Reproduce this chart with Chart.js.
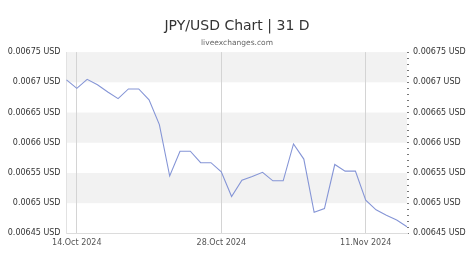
<!DOCTYPE html>
<html>
<head>
<meta charset="utf-8">
<script src="https://cdn.jsdelivr.net/npm/chart.js@4.4.1/dist/chart.umd.min.js"></script>
<style>
html,body{margin:0;padding:0;background:#fff;}
#wrap{width:474px;height:266px;}
</style>
</head>
<body>
<div id="wrap"><canvas id="c" width="474" height="266"></canvas></div>
<script>
const categories = [
  "13.Oct 2024","14.Oct 2024","15.Oct 2024","16.Oct 2024","17.Oct 2024","18.Oct 2024","19.Oct 2024",
  "20.Oct 2024","21.Oct 2024","22.Oct 2024","23.Oct 2024","24.Oct 2024","25.Oct 2024","26.Oct 2024",
  "27.Oct 2024","28.Oct 2024","29.Oct 2024","30.Oct 2024","31.Oct 2024","1.Nov 2024","2.Nov 2024",
  "3.Nov 2024","4.Nov 2024","5.Nov 2024","6.Nov 2024","7.Nov 2024","8.Nov 2024","9.Nov 2024",
  "10.Nov 2024","11.Nov 2024","12.Nov 2024","13.Nov 2024","14.Nov 2024","15.Nov 2024"
];
const rates = [
  0.006704,0.006690,0.006705,0.006696,0.006684,0.006673,0.006689,
  0.006689,0.006671,0.006630,0.006545,0.006586,0.006586,0.006567,
  0.006567,0.006552,0.006511,0.006538,0.006544,0.006551,0.006537,
  0.006537,0.006598,0.006573,0.006485,0.006491,0.006564,0.006553,
  0.006553,0.006505,0.006489,0.006480,0.006472,0.006461
];
const xTickLabels = ["14.Oct 2024","28.Oct 2024","11.Nov 2024"];
const yTickValues = [0.00645,0.0065,0.00655,0.0066,0.00665,0.0067,0.00675];
const yTickLabels = ["0.00645 USD","0.0065 USD","0.00655 USD","0.0066 USD","0.00665 USD","0.0067 USD","0.00675 USD"];
const bandRanges = [[0.0065,0.00655],[0.0066,0.00665],[0.0067,0.00675]];
const yMinorStep = 0.00001;

const FONT = "'DejaVu Sans', 'Liberation Sans', sans-serif";

const bandsPlugin = {
  id: 'bands',
  beforeDraw(chart) {
    const {ctx, chartArea} = chart;
    const y = chart.scales.y;
    ctx.save();
    ctx.fillStyle = '#f2f2f2';
    bandRanges.forEach(([a,b]) => {
      const top = y.getPixelForValue(b);
      const bot = y.getPixelForValue(a);
      ctx.fillRect(chartArea.left, top, chartArea.right - chartArea.left, bot - top);
    });
    ctx.restore();
  }
};

function setTicks(scale) {
  scale.ticks = yTickValues.map(v => ({value: v}));
}
function yLabel(value) {
  const i = yTickValues.findIndex(v => Math.abs(v - value) < 1e-9);
  return i >= 0 ? yTickLabels[i] : '';
}

new Chart(document.getElementById('c'), {
  type: 'line',
  data: {
    labels: categories,
    datasets: [{
      data: rates,
      borderColor: '#8595d6',
      borderWidth: 1.1,
      pointRadius: 0,
      tension: 0,
      fill: false
    }]
  },
  plugins: [bandsPlugin],
  options: {
    responsive: false,
    animation: false,
    devicePixelRatio: 1,
    layout: {padding: {left: 0, right: 0, top: 0, bottom: 13}},
    plugins: {
      legend: {display: false},
      tooltip: {enabled: false},
      title: {
        display: true,
        text: 'JPY/USD Chart | 31 D',
        color: '#333',
        font: {family: FONT, size: 14, weight: 'normal'},
        padding: {top: 18, bottom: 0}
      },
      subtitle: {
        display: true,
        text: 'liveexchanges.com',
        color: '#666',
        font: {family: FONT, size: 7.5, weight: 'normal'},
        padding: {top: 3.3, bottom: 5}
      }
    },
    scales: {
      x: {
        type: 'category',
        offset: false,
        grid: {
          drawTicks: false,
          color: ctx => (ctx.tick && xTickLabels.includes(categories[ctx.index])) ? '#d4d4d4' : 'rgba(0,0,0,0)',
          lineWidth: 1
        },
        border: {display: true, color: '#dcdcdc'},
        ticks: {
          autoSkip: false,
          maxRotation: 0,
          padding: 5,
          color: '#555',
          font: {family: FONT, size: 8},
          callback: function(value, index) {
            const l = categories[index];
            return xTickLabels.includes(l) ? l : '';
          }
        }
      },
      y: {
        position: 'left',
        min: 0.00645,
        max: 0.00675,
        afterBuildTicks: setTicks,
        afterFit: s => { s.width = 66.5; },
        grid: {display: false, drawTicks: false},
        border: {display: true, color: '#e2e2e2'},
        ticks: {
          padding: 6,
          color: '#333',
          font: {family: FONT, size: 8},
          callback: yLabel
        }
      },
      y2: {
        position: 'right',
        min: 0.00645,
        max: 0.00675,
        afterFit: s => { s.width = 67; },
        grid: {display: true, drawOnChartArea: false, drawTicks: true, tickLength: 2, color: '#777', lineWidth: 1},
        border: {display: false},
        ticks: {
          stepSize: yMinorStep,
          autoSkip: false,
          padding: 4,
          color: '#333',
          font: {family: FONT, size: 8},
          callback: yLabel
        }
      }
    }
  }
});
</script>
</body>
</html>
